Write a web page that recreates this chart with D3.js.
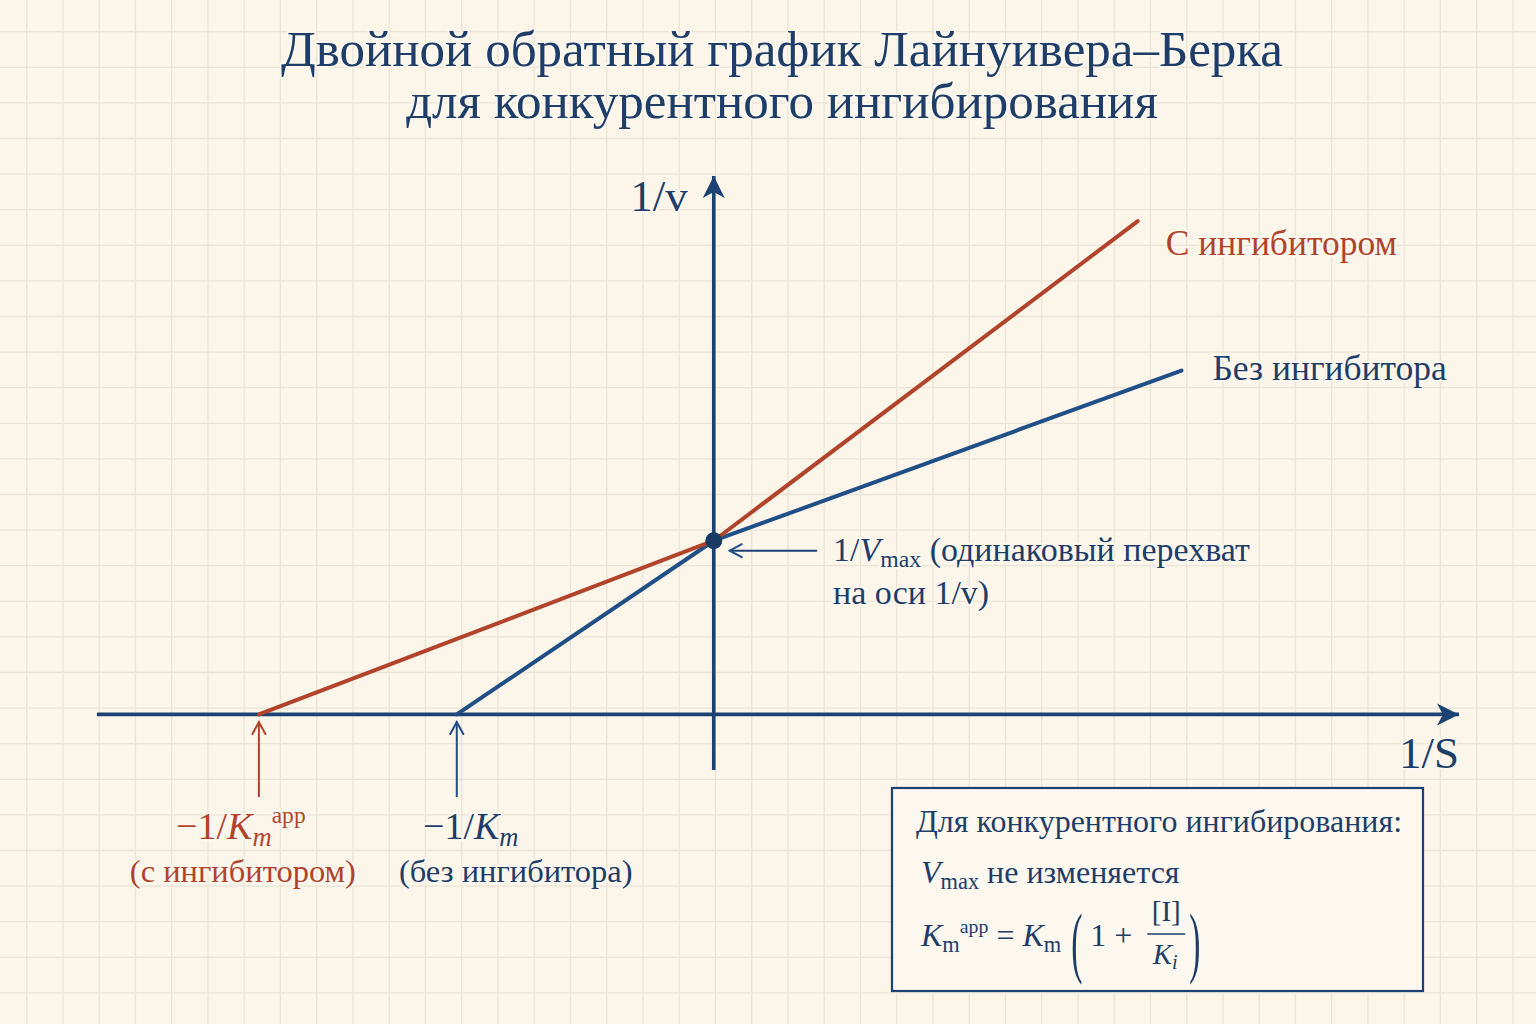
<!DOCTYPE html>
<html>
<head>
<meta charset="utf-8">
<script src="https://cdn.jsdelivr.net/npm/d3@7"></script>
<style>
    body { margin: 0; background: #fbf5ea; }
    svg { display: block; font-family: "Liberation Serif", "Times New Roman", serif; }
    .halo { paint-order: stroke; stroke: #fcf7ee; stroke-width: 4px; stroke-linejoin: round; }
</style>
</head>
<body>
<svg id="vis" width="1536" height="1024"></svg>
<script>

// chart values (conceptual units: 1/Vmax = 1, -1/Km = -1)
var titleLines = ["Двойной обратный график Лайнуивера–Берка", "для конкурентного ингибирования"];
var lineNames = ["Без ингибитора", "С ингибитором"];
var noInhibX = [-1, 0, 1.82];
var noInhibY = [0, 1, 1.98];
var inhibX = [-1.77, 0, 1.65];
var inhibY = [0, 1, 2.84];
var xExtent = [-2.4, 2.9];
var yExtent = [-0.32, 3.1];

var w = 1536;
var h = 1024;

var navy = "#1b4272";
var blue = "#1f4f86";
var red = "#b2432b";
var textNavy = "#1e3d68";

var svg = d3.select("#vis");

var xScale = d3.scaleLinear().domain(xExtent).range([97, 1459]);
var yScale = d3.scaleLinear().domain(yExtent).range([770, 176]);

// background + grid paper
svg.append("rect").attr("width", w).attr("height", h).attr("fill", "#fbf5ea");
var gridX = d3.range(26.7, w, 36.25);
var gridY = d3.range(31.7, h, 35.6);
var grid = svg.append("g").attr("stroke", "#ebe4d6").attr("stroke-width", 1.3);
grid.selectAll("line.v").data(gridX).enter().append("line")
    .attr("x1", d => d).attr("x2", d => d).attr("y1", 0).attr("y2", h);
grid.selectAll("line.h").data(gridY).enter().append("line")
    .attr("y1", d => d).attr("y2", d => d).attr("x1", 0).attr("x2", w);

// markers
var defs = svg.append("defs");
defs.append("marker").attr("id", "axisHead")
    .attr("viewBox", "-24 -13 26 26").attr("markerUnits", "userSpaceOnUse")
    .attr("markerWidth", 26).attr("markerHeight", 26).attr("refX", 0).attr("refY", 0)
    .attr("orient", "auto")
    .append("path").attr("d", "M0,0 L-22,-11 L-16,0 L-22,11 Z").attr("fill", navy);
[["redHead", red], ["blueHead", blue]].forEach(function(m) {
    defs.append("marker").attr("id", m[0])
        .attr("viewBox", "-14 -8 16 16").attr("markerUnits", "userSpaceOnUse")
        .attr("markerWidth", 16).attr("markerHeight", 16).attr("refX", 0).attr("refY", 0)
        .attr("orient", "auto")
        .append("path").attr("d", "M-12,-6.5 L0,0 L-12,6.5")
        .attr("fill", "none").attr("stroke", m[1]).attr("stroke-width", 2).attr("stroke-linecap", "round");
});

// title
svg.append("g").selectAll("text").data(titleLines).enter().append("text")
    .attr("class", "halo")
    .attr("x", 782).attr("y", (d, i) => 66 + i * 52)
    .attr("text-anchor", "middle").attr("font-size", 51).attr("fill", textNavy)
    .text(d => d);

// axes
svg.append("line")
    .attr("x1", xScale(xExtent[0])).attr("x2", xScale(xExtent[1]))
    .attr("y1", yScale(0)).attr("y2", yScale(0))
    .attr("stroke", navy).attr("stroke-width", 3.6).attr("marker-end", "url(#axisHead)");
svg.append("line")
    .attr("x1", xScale(0)).attr("x2", xScale(0))
    .attr("y1", yScale(yExtent[0])).attr("y2", yScale(yExtent[1]))
    .attr("stroke", navy).attr("stroke-width", 3.6).attr("marker-end", "url(#axisHead)");

svg.append("text").attr("class", "halo")
    .attr("x", 659).attr("y", 211).attr("text-anchor", "middle")
    .attr("font-size", 45).attr("fill", textNavy).text("1/v");
svg.append("text").attr("class", "halo")
    .attr("x", 1429).attr("y", 768).attr("text-anchor", "middle")
    .attr("font-size", 45).attr("fill", textNavy).text("1/S");

// lines
var lineGen = d3.line().x(d => xScale(d[0])).y(d => yScale(d[1]));
var series = [
    { name: lineNames[0], pts: d3.zip(noInhibX, noInhibY), color: blue },
    { name: lineNames[1], pts: d3.zip(inhibX, inhibY), color: red }
];
svg.append("g").selectAll("path").data(series).enter().append("path")
    .attr("d", d => lineGen(d.pts))
    .attr("fill", "none").attr("stroke", d => d.color)
    .attr("stroke-width", 4).attr("stroke-linecap", "round").attr("stroke-linejoin", "round");

// intercept dot
svg.append("circle")
    .attr("cx", xScale(0)).attr("cy", yScale(1)).attr("r", 8.5)
    .attr("fill", "#163a62");

// line labels
svg.append("text").attr("class", "halo")
    .attr("x", xScale(inhibX[2]) + 28).attr("y", 255)
    .attr("font-size", 35.5).attr("fill", red).text(lineNames[1]);
svg.append("text").attr("class", "halo")
    .attr("x", xScale(noInhibX[2]) + 31).attr("y", 380)
    .attr("font-size", 35.5).attr("fill", textNavy).text(lineNames[0]);

// rich text helper: parts = [text, style] ; style: "", "i", "sub", "subi", "sup"
function richText(parent, x, y, size, color, parts, anchor) {
    var t = parent.append("text").attr("class", "halo")
        .attr("x", x).attr("y", y).attr("font-size", size).attr("fill", color)
        .attr("text-anchor", anchor || "start");
    var shift = 0;
    parts.forEach(function(p) {
        var s = p[1] || "";
        var target = 0, fs = size, italic = false;
        if (s.indexOf("sub") === 0) { target = size * 0.18; fs = size * 0.7; }
        if (s === "sup") { target = -size * 0.42; fs = size * 0.62; }
        if (s === "i" || s === "subi") italic = true;
        t.append("tspan")
            .attr("dy", target - shift)
            .attr("font-size", fs)
            .attr("font-style", italic ? "italic" : "normal")
            .text(p[0]);
        shift = target;
    });
    return t;
}

// annotation arrows at x-intercepts and 1/Vmax
svg.append("line")
    .attr("x1", xScale(inhibX[0])).attr("x2", xScale(inhibX[0]))
    .attr("y1", 797).attr("y2", 722)
    .attr("stroke", red).attr("stroke-width", 2).attr("marker-end", "url(#redHead)");
svg.append("line")
    .attr("x1", xScale(noInhibX[0])).attr("x2", xScale(noInhibX[0]))
    .attr("y1", 797).attr("y2", 722)
    .attr("stroke", blue).attr("stroke-width", 2).attr("marker-end", "url(#blueHead)");
svg.append("line")
    .attr("x1", 817).attr("x2", xScale(0) + 16)
    .attr("y1", yScale(1) + 10).attr("y2", yScale(1) + 10)
    .attr("stroke", navy).attr("stroke-width", 2).attr("marker-end", "url(#blueHead)");

richText(svg, xScale(inhibX[0]) - 18, 839, 38, red,
    [["−1/", ""], ["K", "i"], ["m", "subi"], ["app", "sup"]], "middle");
svg.append("text").attr("class", "halo")
    .attr("x", xScale(inhibX[0]) - 16).attr("y", 882).attr("text-anchor", "middle")
    .attr("font-size", 32.5).attr("fill", red).text("(с ингибитором)");

richText(svg, xScale(noInhibX[0]) + 14, 839, 38, textNavy,
    [["−1/", ""], ["K", "i"], ["m", "subi"]], "middle");
svg.append("text").attr("class", "halo")
    .attr("x", xScale(noInhibX[0]) + 59).attr("y", 882).attr("text-anchor", "middle")
    .attr("font-size", 32.5).attr("fill", textNavy).text("(без ингибитора)");

richText(svg, 833, 561, 34, textNavy,
    [["1/", ""], ["V", "i"], ["max", "sub"], [" (одинаковый перехват", ""]]);
svg.append("text").attr("class", "halo")
    .attr("x", 833).attr("y", 604).attr("font-size", 34).attr("fill", textNavy)
    .text("на оси 1/v)");

// info box
var box = svg.append("g");
box.append("rect")
    .attr("x", 892).attr("y", 788).attr("width", 531).attr("height", 203)
    .attr("fill", "#fdf8ef").attr("stroke", navy).attr("stroke-width", 2.2);
box.append("text").attr("x", 916).attr("y", 832)
    .attr("font-size", 32).attr("fill", textNavy).text("Для конкурентного ингибирования:");
richText(box, 921, 883, 32, textNavy,
    [["V", "i"], ["max", "sub"], [" не изменяется", ""]]);
var f1 = richText(box, 921, 946, 32, textNavy,
    [["K", "i"], ["m", "sub"], ["app", "sup"], ["  =  ", ""], ["K", "i"], ["m", "sub"]]);
var fx = 921 + f1.node().getComputedTextLength() + 10;
function bigParen(x, ch) {
    box.append("text").attr("x", x).attr("y", 968).attr("font-size", 32).attr("fill", textNavy)
        .attr("transform", "translate(" + x + ",968) scale(1.05,2.45) translate(" + (-x) + ",-968)")
        .text(ch);
}
bigParen(fx, "(");
var one = box.append("text").attr("x", fx + 19).attr("y", 946).attr("font-size", 32)
    .attr("fill", textNavy).text("1 +");
var fracX = fx + 19 + one.node().getComputedTextLength() + 15;
box.append("text").attr("x", fracX + 19).attr("y", 921).attr("text-anchor", "middle")
    .attr("font-size", 29).attr("fill", textNavy).text("[I]");
box.append("line").attr("x1", fracX).attr("x2", fracX + 38).attr("y1", 934).attr("y2", 934)
    .attr("stroke", textNavy).attr("stroke-width", 1.6);
richText(box, fracX + 18, 964, 29, textNavy, [["K", "i"], ["i", "subi"]], "middle");
bigParen(fracX + 42, ")");

</script>
</body>
</html>
